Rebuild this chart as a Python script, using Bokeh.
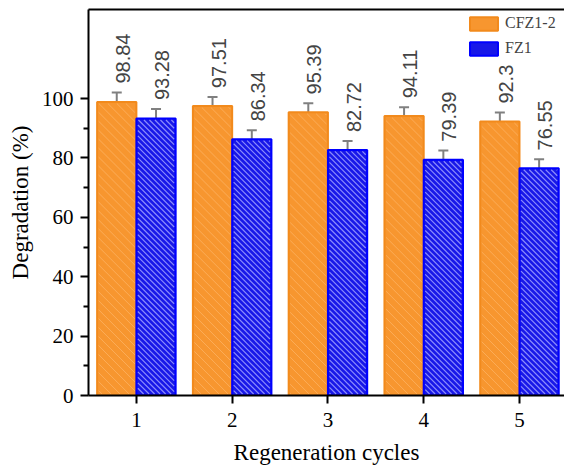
import math
from bokeh.plotting import figure
from bokeh.models import (Range1d, FixedTicker, ColumnDataSource, Whisker, TeeHead,
                          Legend, LegendItem, Label, LinearAxis)
from bokeh.embed import file_html
from bokeh.resources import INLINE

cycles = [1, 2, 3, 4, 5]
cfz_values = [98.84, 97.51, 95.39, 94.11, 92.3]
fz_values = [93.28, 86.34, 82.72, 79.39, 76.55]
cfz_err = [3.2, 3.0, 3.0, 3.0, 3.0]
fz_err = [3.2, 3.0, 3.0, 3.1, 3.0]
cfz_labels = ["98.84", "97.51", "95.39", "94.11", "92.3"]
fz_labels = ["93.28", "86.34", "82.72", "79.39", "76.55"]
y_ticks = [0, 20, 40, 60, 80, 100]
y_minor = [10, 30, 50, 70, 90]

BW = 0.41
LABEL_DX = 0.136   # data-space shift of value labels (about 13 px)
LABEL_DY = 3.0     # data-space gap above error bar (about 9 px)
SERIF = "Liberation Serif"
X_START, X_END, Y_START, Y_END = 0.5, 5.47, 0, 130
FRAME_W, FRAME_H = 476, 387
KX = FRAME_W / (X_END - X_START)
KY = FRAME_H / (Y_END - Y_START)

p = figure(width=564, height=467, output_backend="svg", toolbar_location=None,
           x_range=Range1d(X_START, X_END), y_range=Range1d(Y_START, Y_END),
           min_border_left=88, min_border_right=0, min_border_top=9, min_border_bottom=71)
p.outline_line_color = None
p.grid.visible = False
p.background_fill_color = "white"

src_c = ColumnDataSource(dict(x=[c - BW / 2 for c in cycles], top=cfz_values,
                              upper=[v + e for v, e in zip(cfz_values, cfz_err)],
                              lower=[v - e for v, e in zip(cfz_values, cfz_err)]))
src_f = ColumnDataSource(dict(x=[c + BW / 2 for c in cycles], top=fz_values,
                              upper=[v + e for v, e in zip(fz_values, fz_err)],
                              lower=[v - e for v, e in zip(fz_values, fz_err)]))


def hatch_segments(centers, tops, width, step, inset=1.5):
    """Diagonal '\\' texture lines clipped to each bar, in data coordinates."""
    x0s, y0s, x1s, y1s = [], [], [], []
    for xc, top in zip(centers, tops):
        bx0 = (xc - width / 2) * KX + inset
        bx1 = (xc + width / 2) * KX - inset
        by0 = inset
        by1 = top * KY - inset
        k0 = math.ceil((bx0 + by0) / step)
        k1 = math.floor((bx1 + by1) / step)
        for k in range(k0, k1 + 1):
            c = k * step
            xa = max(bx0, c - by1)
            xb = min(bx1, c - by0)
            if xb - xa > 0.5:
                x0s.append(xa / KX)
                y0s.append((c - xa) / KY)
                x1s.append(xb / KX)
                y1s.append((c - xb) / KY)
    return x0s, y0s, x1s, y1s


r_c = p.vbar(x="x", top="top", width=BW, source=src_c, fill_color="#F7962F",
             line_color="#F28A1C", line_width=2)
r_f = p.vbar(x="x", top="top", width=BW, source=src_f, fill_color="#1818E8",
             line_color="#0000FF", line_width=2)

hx0, hy0, hx1, hy1 = hatch_segments(src_c.data["x"], cfz_values, BW, 9)
p.segment(x0=hx0, y0=hy0, x1=hx1, y1=hy1, line_color="#FFC07A",
          line_alpha=0.55, line_width=1)
hx0, hy0, hx1, hy1 = hatch_segments(src_f.data["x"], fz_values, BW, 5.5)
p.segment(x0=hx0, y0=hy0, x1=hx1, y1=hy1, line_color="#A0A0FF",
          line_alpha=0.85, line_width=1.2)

for src, labels in ((src_c, cfz_labels), (src_f, fz_labels)):
    w = Whisker(base="x", upper="upper", lower="lower", source=src,
                line_color="#808080", line_width=2,
                upper_head=TeeHead(size=10, line_color="#808080", line_width=2),
                lower_head=TeeHead(size=10, line_color="#808080", line_width=2))
    p.add_layout(w)
    for xv, yv, t in zip(src.data["x"], src.data["upper"], labels):
        p.add_layout(Label(x=xv + LABEL_DX, y=yv + LABEL_DY, text=t,
                           angle=math.pi / 2, text_font_size="20px"))

legend = Legend(items=[LegendItem(label="CFZ1-2", renderers=[r_c]),
                       LegendItem(label="FZ1", renderers=[r_f])],
                location=(378, 338))
legend.glyph_width = 35
legend.glyph_height = 17
legend.spacing = 7
legend.label_standoff = 4
legend.padding = 0
legend.margin = 0
legend.border_line_color = None
legend.background_fill_alpha = 0
legend.label_text_font = SERIF
legend.label_text_font_size = "16px"
legend.label_height = 17
p.add_layout(legend, "center")

top_axis = LinearAxis(ticker=FixedTicker(ticks=[]), axis_line_width=2,
                      axis_line_color="black", major_tick_line_color=None,
                      minor_tick_line_color=None, major_label_text_font_size="0px",
                      major_label_standoff=0)
p.add_layout(top_axis, "above")

p.xaxis.ticker = FixedTicker(ticks=cycles)
p.yaxis.ticker = FixedTicker(ticks=y_ticks, minor_ticks=y_minor)
for ax in (p.below[0], p.left[0]):
    ax.axis_line_width = 2
    ax.axis_line_color = "black"
    ax.major_tick_line_width = 2
    ax.minor_tick_line_width = 2
    ax.major_tick_out = 8
    ax.major_tick_in = 0
    ax.minor_tick_out = 5
    ax.minor_tick_in = 0
    ax.major_label_text_font = SERIF
    ax.major_label_text_font_size = "21px"
    ax.major_label_text_color = "black"
    ax.axis_label_text_font = SERIF
    ax.axis_label_text_font_size = "23px"
    ax.axis_label_text_font_style = "normal"
    ax.axis_label_text_color = "black"
p.below[0].minor_tick_line_color = None
p.below[0].axis_label = "Regeneration cycles"
p.left[0].axis_label = "Degradation (%)"
p.below[0].major_label_standoff = 9
p.left[0].major_label_standoff = 7
p.below[0].axis_label_standoff = 10
p.left[0].axis_label_standoff = 6

open("out.html", "w").write(file_html(p, INLINE))
